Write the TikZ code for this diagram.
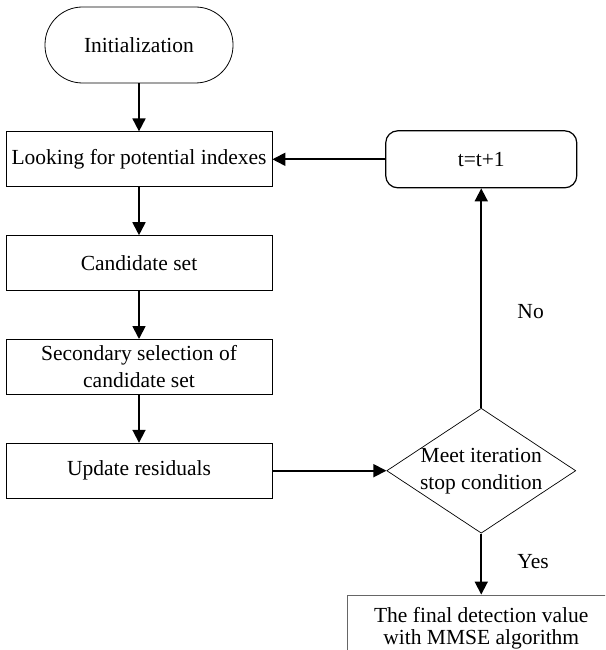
\documentclass[tikz,border=0pt]{standalone}
\usepackage{fontspec}
\setmainfont{Liberation Serif}
\usetikzlibrary{arrows.meta, positioning, shapes.geometric}

\begin{document}
\begin{tikzpicture}[->,>={Triangle[length=13pt,width=13pt]},line width=1.8pt,node distance=48pt,
    every node/.style={font=\fontsize{21.5pt}{27pt}\selectfont}]
  \tikzstyle{startstop}=[draw=black,line width=0.8pt,rectangle,rounded corners=37.5pt,minimum width=188pt,minimum height=76pt]
  \tikzstyle{process}=[draw=black,line width=0.8pt,rectangle,minimum width=266pt,minimum height=55pt,inner sep=3pt,align=center]
  \tikzstyle{decision}=[draw=black,line width=0.7pt,diamond,aspect=1.5,minimum width=189pt,minimum height=125pt,inner sep=-1pt,align=center]
  \tikzstyle{loopbox}=[draw=black,line width=1.2pt,rectangle,rounded corners=12pt,minimum width=191pt,minimum height=57pt]
  \tikzstyle{finalbox}=[draw=black!60,line width=0.8pt,rectangle,minimum width=268pt,inner ysep=12pt,align=center,
    font=\fontsize{21.5pt}{22pt}\selectfont]

  \clip (0,0) rectangle (605pt,-650pt);

  \node[startstop] (init) at (139pt,-45pt) {Initialization};
  \node[process] (look) [below=of init] {Looking for potential indexes};
  \node[process] (cand) [below=of look] {Candidate set};
  \node[process] (second) [below=of cand] {Secondary selection of\\candidate set};
  \node[process] (update) [below=of second] {Update residuals};
  \node[decision] (stop) [right=114pt of update] {Meet iteration\\stop condition};
  \node[loopbox] (incr) at (stop |- look) {t=t+1};
  \node[finalbox] (final) [below=61pt of stop] {The final detection value\\with MMSE algorithm};

  \path (init) edge (look)
        (look) edge (cand)
        (cand) edge (second)
        (second) edge (update)
        (update) edge (stop)
        (stop) edge node[pos=0.44,right=32pt] {No} (incr)
        (incr) edge (look)
        (stop) edge node[pos=0.46,right=32pt] {Yes} (final);
\end{tikzpicture}
\end{document}
